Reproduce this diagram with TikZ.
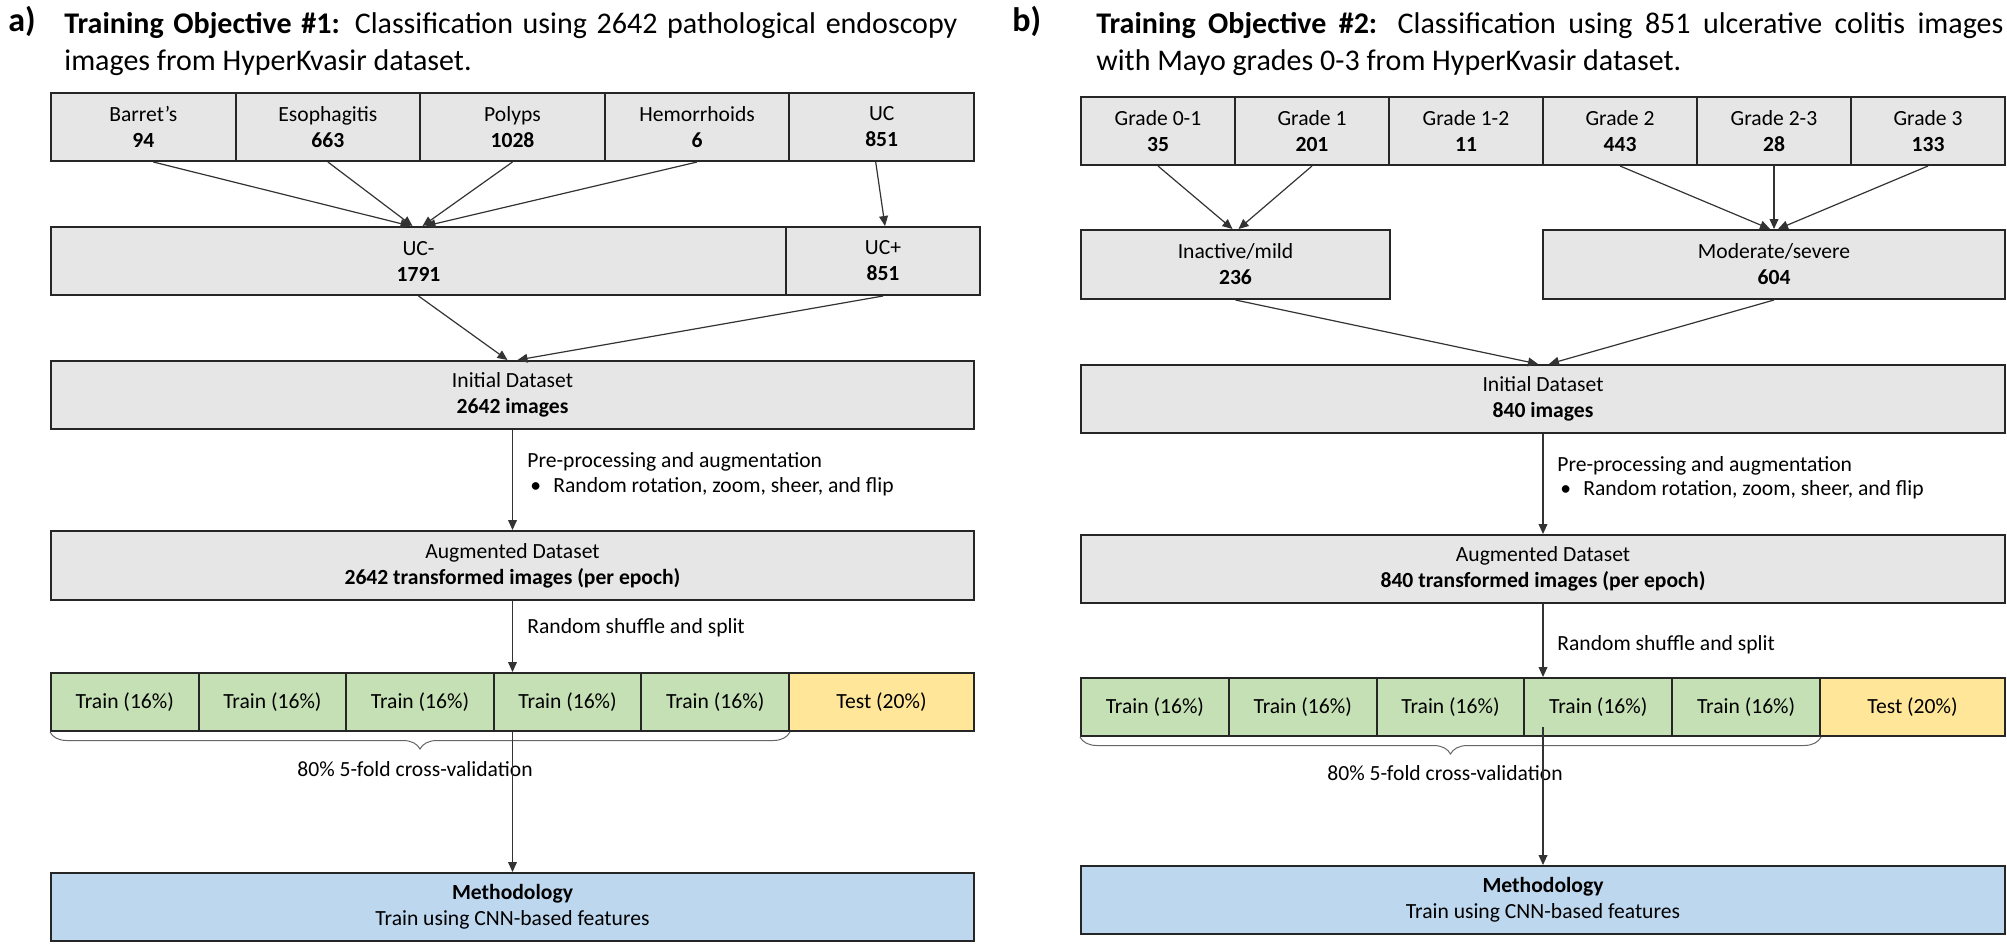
\documentclass[tikz,border=0pt]{standalone}
\usepackage{fontspec}
\setmainfont{Carlito}
\usepackage{tikz}
\usetikzlibrary{positioning,arrows.meta,calc,decorations.pathreplacing}
\usepackage{xcolor}
\definecolor{cellgray}{HTML}{E7E6E6}
\definecolor{traingreen}{HTML}{C5E0B4}
\definecolor{testyellow}{HTML}{FFE699}
\definecolor{methblue}{HTML}{BDD7EE}

\begin{document}
\begin{tikzpicture}[x=0.5pt,y=-0.5pt,>={Triangle[length=5pt,width=4.4pt]},
  cell/.style={draw=black!85,line width=1pt,fill=cellgray,inner sep=0pt,anchor=north west,align=center,font=\fontsize{10.8}{13}\selectfont},
  flow/.style={->,line width=0.6pt,draw=black!80},
  lbl/.style={anchor=west,inner sep=0pt,font=\fontsize{10.8}{13}\selectfont},
  ttl/.style={anchor=base west,inner sep=0pt,font=\fontsize{15}{18}\selectfont},
  tag/.style={anchor=base west,inner sep=0pt,font=\fontsize{17}{20}\selectfont\bfseries},
  fold/.style={draw=black!60,line width=0.5pt,decorate,decoration={brace,mirror,amplitude=8.5pt}}]
\useasboundingbox (0,0) rectangle (2007,944);

% a) objective 1
\node[tag] (taga) at (8,31) {a)};
\node[ttl] (tia1) at (64,33) {\makebox[446.5pt][s]{\textbf{Training Objective \#1:} Classification using 2642 pathological endoscopy}};
\node[ttl] (tia2) at (64,70) {images from HyperKvasir dataset.};
\foreach \nm/\lab/\cnt [count=\i from 0] in {bar/Barret’s/94,eso/Esophagitis/663,pol/Polyps/1028,hem/Hemorrhoids/6,uc/UC/851}
  \node[cell,minimum width=92.3pt,minimum height=34pt] (\nm) at ({50+184.6*\i},92) {\lab\\\textbf{\cnt}};
\node[cell,minimum width=367.5pt,minimum height=34pt] (ucn) at (50,226) {UC-\\\textbf{1791}};
\node[cell,minimum width=97pt,minimum height=34pt] (ucp) at (785,226) {UC+\\\textbf{851}};
\draw[flow] ([xshift=5pt]bar.south) -- ([xshift=-4pt]ucn.north);
\draw[flow] (eso.south) -- ([xshift=-3pt]ucn.north);
\draw[flow] (pol.south) -- ([xshift=2pt]ucn.north);
\draw[flow] (hem.south) -- ([xshift=3.5pt]ucn.north);
\draw[flow] ([xshift=-3pt]uc.south) -- ([xshift=1pt]ucp.north);
\node[cell,minimum width=461.5pt,minimum height=34pt] (inita) at (50,360) {Initial Dataset\\\textbf{2642 images}};
\draw[flow] (ucn.south) -- ([xshift=-2.5pt]inita.north);
\draw[flow] (ucp.south) -- ([xshift=2.5pt]inita.north);
\node[cell,minimum width=461.5pt,minimum height=34.5pt] (auga) at (50,530) {Augmented Dataset\\\textbf{2642 transformed images (per epoch)}};
\draw[flow] (inita) -- (auga);
\node[lbl] (prea) at (527,462) {Pre-processing and augmentation};
\node[lbl] (rota) at (530,487) {\makebox[11.5pt][l]{•}Random rotation, zoom, sheer, and flip};
\foreach \i in {1,...,5}
  \node[cell,fill=traingreen,minimum width=73.8pt,minimum height=29pt] (ta\i) at ({50+147.6*(\i-1)},672) {Train (16\%)};
\node[cell,fill=testyellow,minimum width=92.5pt,minimum height=29pt] (tea) at (788,672) {Test (20\%)};
\draw[flow] (auga) -- (auga.south |- ta4.north);
\node[lbl] (shufa) at (527,628) {Random shuffle and split};
\draw[fold] (ta1.south west) -- (ta5.south east);
\node[lbl,anchor=center] (cva) at (415,769) {80\% 5-fold cross-validation};
\node[cell,fill=methblue,minimum width=461.5pt,minimum height=34pt] (metha) at (50,872) {\textbf{Methodology}\\Train using CNN-based features};
\draw[flow] (auga.south |- ta4.south) -- (metha);

% b) objective 2
\node[tag] (tagb) at (1012,31) {b)};
\node[ttl] (tib1) at (1096,33) {\makebox[453.5pt][s]{\textbf{Training Objective \#2:} Classification using 851 ulcerative colitis images}};
\node[ttl] (tib2) at (1096,70) {with Mayo grades 0-3 from HyperKvasir dataset.};
\foreach \nm/\lab/\cnt [count=\i from 0] in {g01/Grade 0-1/35,g1/Grade 1/201,g12/Grade 1-2/11,g2/Grade 2/443,g23/Grade 2-3/28,g3/Grade 3/133}
  \node[cell,minimum width=77pt,minimum height=34pt] (\nm) at ({1080+154*\i},96) {\lab\\\textbf{\cnt}};
\node[cell,minimum width=154.5pt,minimum height=34.5pt] (inact) at (1080,229) {Inactive/mild\\\textbf{236}};
\node[cell,minimum width=231pt,minimum height=34.5pt] (modsev) at (1542,229) {Moderate/severe\\\textbf{604}};
\draw[flow] (g01.south) -- ([xshift=-1.5pt]inact.north);
\draw[flow] (g1.south) -- ([xshift=1.5pt]inact.north);
\draw[flow] (g2.south) -- ([xshift=-2pt]modsev.north);
\draw[flow] (g23.south) -- (modsev.north);
\draw[flow] (g3.south) -- ([xshift=2pt]modsev.north);
\node[cell,minimum width=462pt,minimum height=34pt] (initb) at (1080,364) {Initial Dataset\\\textbf{840 images}};
\draw[flow] (inact.south) -- ([xshift=-2.5pt]initb.north);
\draw[flow] (modsev.south) -- ([xshift=3pt]initb.north);
\node[cell,minimum width=462pt,minimum height=34pt] (augb) at (1080,534) {Augmented Dataset\\\textbf{840 transformed images (per epoch)}};
\draw[flow] (initb) -- (augb);
\node[lbl] (preb) at (1557,466) {Pre-processing and augmentation};
\node[lbl] (rotb) at (1560,490) {\makebox[11.5pt][l]{•}Random rotation, zoom, sheer, and flip};
\foreach \i in {1,...,5}
  \node[cell,fill=traingreen,minimum width=73.9pt,minimum height=29pt] (tb\i) at ({1080+147.8*(\i-1)},677) {Train (16\%)};
\node[cell,fill=testyellow,minimum width=92.5pt,minimum height=29pt] (teb) at (1819,677) {Test (20\%)};
\draw[flow] (augb) -- (augb.south |- tb4.north);
\node[lbl] (shufb) at (1557,645) {Random shuffle and split};
\draw[fold] (tb1.south west) -- (tb5.south east);
\node[lbl,anchor=center] (cvb) at (1445,773) {80\% 5-fold cross-validation};
\node[cell,fill=methblue,minimum width=462pt,minimum height=34pt] (methb) at (1080,865) {\textbf{Methodology}\\Train using CNN-based features};
\draw[flow] ([yshift=5pt]augb.south |- tb4.south) -- (methb);
\end{tikzpicture}
\end{document}
